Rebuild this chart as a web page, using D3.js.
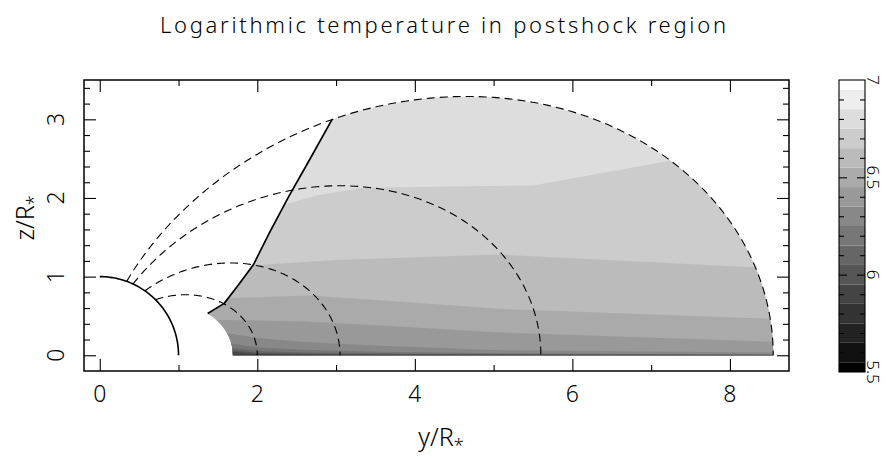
<!DOCTYPE html>
<html>
<head>
<meta charset="utf-8">
<script src="https://cdn.jsdelivr.net/npm/d3@7"></script>
<style>
  body { margin: 0; background: #fff; }
  text { font-family: "Noto Sans", sans-serif; font-weight: 300; fill: #000; }
</style>
</head>
<body>
<svg id="chart" width="886" height="459"></svg>
<script>
// dipole shells, given by where they cross the equator (units of R*)
const fieldLineL = [2.0, 3.05, 5.6, 8.55]
const innerShellL = 1.69
const outerShellL = 8.55

// shock front, [y, z]
const shockFront = [[1.37, 0.53], [1.58, 0.66], [1.75, 0.88], [1.95, 1.15], [2.15, 1.55], [2.40, 2.02], [2.66, 2.48], [2.95, 3.0]]

// log T of each band, top band first
const bandLevels = [6.8, 6.7, 6.6, 6.5, 6.4, 6.3, 6.2, 6.1, 6.0, 5.9]

// band edges, boundary i lies between bandLevels[i] and bandLevels[i + 1]
const edge675 = [[2.30, 1.90], [2.75, 2.03], [3.34, 2.13], [5.5, 2.16], [7.17, 2.46], [7.6, 2.58]]
const edge665 = [[1.90, 1.14], [3.0, 1.21], [5.08, 1.28], [8.29, 1.12], [8.8, 1.10]]
const edge655 = [[1.45, 0.72], [2.67, 0.76], [3.56, 0.70], [5.08, 0.59], [8.6, 0.46]]
const edge645 = [[1.55, 0.45], [2.6, 0.43], [3.56, 0.38], [5.08, 0.29], [8.6, 0.17]]
const edge635 = [[1.62, 0.28], [2.0, 0.22], [2.6, 0.17], [3.56, 0.12], [5.08, 0.065], [8.6, 0.035]]
const edge625 = [[1.67, 0.15], [2.0, 0.10], [2.6, 0.07], [3.56, 0.045], [5.08, 0.025], [8.6, 0.014]]
const edge615 = [[1.69, 0.09], [2.0, 0.055], [2.6, 0.035], [4.0, 0.018], [8.6, 0.008]]
const edge605 = [[1.69, 0.06], [2.0, 0.03], [2.6, 0.018], [8.6, 0.004]]
const edge595 = [[1.69, 0.04], [2.0, 0.018], [3.0, 0.007], [8.6, 0.0]]
const bandEdges = [edge675, edge665, edge655, edge645, edge635, edge625, edge615, edge605, edge595]

// axes and colour bar
const xMajor = [0, 2, 4, 6, 8]
const xMinor = [1, 3, 5, 7]
const yMajor = [0, 1, 2, 3]
const yMinor = [0.2, 0.4, 0.6, 0.8, 1.2, 1.4, 1.6, 1.8, 2.2, 2.4, 2.6, 2.8, 3.2, 3.4]
const barLevels = [5.5, 5.6, 5.7, 5.8, 5.9, 6.0, 6.1, 6.2, 6.3, 6.4, 6.5, 6.6, 6.7, 6.8, 6.9, 7.0]
const barMajor = [6.0, 6.5]
const barLabels = ['5.5', '6', '6.5', '7']

const svg = d3.select('#chart')

const x = d3.scaleLinear().domain([-0.2, 8.75]).range([84, 789])
const y = d3.scaleLinear().domain([-0.2, 3.5]).range([371, 80])
const grey = d3.scaleLinear().domain([5.5, 7]).range(['#000', '#fff'])

const line = d3.line().x(d => x(d[0])).y(d => y(d[1]))

// points along a dipole shell r = L sin^2(theta), from theta a to b
const shell = (L, a, b, n = 120) => d3.range(n + 1).map(i => {
  const t = a + (b - a) * i / n
  const s = Math.sin(t)
  return [L * s * s * s, L * s * s * Math.cos(t)]
})
const thetaAt = (L, yy) => Math.asin(Math.cbrt(yy / L))

// postshock region: shock, outer shell down to the equator, inner shell back up
const shockTop = shockFront[shockFront.length - 1]
const shockFoot = shockFront[0]
const region = shockFront
  .concat(shell(outerShellL, thetaAt(outerShellL, shockTop[0]), Math.PI / 2))
  .concat(shell(innerShellL, Math.PI / 2, thetaAt(innerShellL, shockFoot[0])))

svg.append('clipPath').attr('id', 'post')
  .append('path').attr('d', line(region) + 'Z')

const bands = svg.append('g').attr('clip-path', 'url(#post)')

bands.append('path')
  .attr('d', line(region) + 'Z')
  .attr('fill', grey(bandLevels[0]))

bandEdges.forEach((edge, i) => {
  const last = edge[edge.length - 1]
  const poly = [[0.5, edge[0][1]]].concat(edge, [[9.5, last[1]], [9.5, -1], [0.5, -1]])
  bands.append('path')
    .attr('d', line(poly) + 'Z')
    .attr('fill', grey(bandLevels[i + 1]))
})

// dashed field lines from the stellar surface to the equator
svg.append('g').selectAll('path')
  .data(fieldLineL)
  .enter().append('path')
  .attr('d', L => line(shell(L, Math.asin(Math.sqrt(1 / L)), Math.PI / 2)))
  .attr('fill', 'none')
  .attr('stroke', '#000')
  .attr('stroke-width', 1.1)
  .attr('stroke-dasharray', '8,5')

// stellar surface
svg.append('path')
  .attr('d', line(d3.range(91).map(i => [Math.sin(i * Math.PI / 180), Math.cos(i * Math.PI / 180)])))
  .attr('fill', 'none')
  .attr('stroke', '#000')
  .attr('stroke-width', 1.6)

// shock front
svg.append('path')
  .attr('d', line(shockFront))
  .attr('fill', 'none')
  .attr('stroke', '#000')
  .attr('stroke-width', 1.7)
  .attr('stroke-linejoin', 'round')

// ticks on all four sides, pointing inward
const ticks = (axis, transform, values, size) => {
  svg.append('g')
    .attr('transform', transform)
    .call(axis.tickValues(values).tickSize(size).tickFormat(''))
    .call(g => g.select('.domain').remove())
    .selectAll('line').attr('stroke-width', 1.1)
}
ticks(d3.axisBottom(x), 'translate(0,371)', xMajor, -12)
ticks(d3.axisBottom(x), 'translate(0,371)', xMinor, -6)
ticks(d3.axisTop(x), 'translate(0,80)', xMajor, -12)
ticks(d3.axisTop(x), 'translate(0,80)', xMinor, -6)
ticks(d3.axisLeft(y), 'translate(84,0)', yMajor, -12)
ticks(d3.axisLeft(y), 'translate(84,0)', yMinor, -6)
ticks(d3.axisRight(y), 'translate(789,0)', yMajor, -12)
ticks(d3.axisRight(y), 'translate(789,0)', yMinor, -6)

svg.append('rect')
  .attr('x', 84).attr('y', 80).attr('width', 705).attr('height', 291)
  .attr('fill', 'none').attr('stroke', '#000').attr('stroke-width', 1.5)

// tick labels
svg.append('g').selectAll('text')
  .data(xMajor)
  .enter().append('text')
  .attr('x', d => x(d)).attr('y', 402)
  .attr('text-anchor', 'middle')
  .attr('font-size', 23)
  .text(d => d)

svg.append('g').selectAll('text')
  .data(yMajor)
  .enter().append('text')
  .attr('transform', d => `translate(64,${y(d)}) rotate(-90)`)
  .attr('text-anchor', 'middle')
  .attr('font-size', 23)
  .text(d => d)

// axis titles
const xt = svg.append('text')
  .attr('x', 441).attr('y', 446)
  .attr('text-anchor', 'middle')
  .attr('font-size', 25)
xt.append('tspan').text('y/R')
xt.append('tspan').attr('dy', 6).attr('font-size', 18).text('*')

const yt = svg.append('text')
  .attr('transform', 'translate(34,218) rotate(-90)')
  .attr('text-anchor', 'middle')
  .attr('font-size', 25)
yt.append('tspan').text('z/R')
yt.append('tspan').attr('dy', 6).attr('font-size', 18).text('*')

svg.append('text')
  .attr('x', 443).attr('y', 33)
  .attr('text-anchor', 'middle')
  .attr('font-size', 22)
  .attr('font-weight', 400)
  .attr('textLength', 566)
  .attr('lengthAdjust', 'spacing')
  .text('Logarithmic temperature in postshock region')

// colour bar
const c = d3.scaleLinear().domain([5.5, 7]).range([372, 80])
const bar = svg.append('g')
bar.selectAll('rect')
  .data(barLevels)
  .enter().append('rect')
  .attr('x', 839).attr('width', 26)
  .attr('y', d => c(Math.min(7, d + 0.05)))
  .attr('height', d => c(Math.max(5.5, d - 0.05)) - c(Math.min(7, d + 0.05)))
  .attr('fill', d => grey(d))

const barMinor = barLevels.filter(d => d > 5.5 && d < 7 && !barMajor.includes(d))
ticks(d3.axisLeft(c), 'translate(839,0)', barMinor, -5)
ticks(d3.axisLeft(c), 'translate(839,0)', barMajor, -8)
ticks(d3.axisRight(c), 'translate(865,0)', barMinor, -5)
ticks(d3.axisRight(c), 'translate(865,0)', barMajor, -8)

bar.append('rect')
  .attr('x', 839).attr('y', 80).attr('width', 26).attr('height', 292)
  .attr('fill', 'none').attr('stroke', '#000').attr('stroke-width', 1.1)

svg.append('g').selectAll('text')
  .data(barLabels)
  .enter().append('text')
  .attr('transform', d => `translate(867,${c(+d)}) rotate(90)`)
  .attr('text-anchor', 'middle')
  .attr('font-size', 17)
  .text(d => d)
</script>
</body>
</html>
